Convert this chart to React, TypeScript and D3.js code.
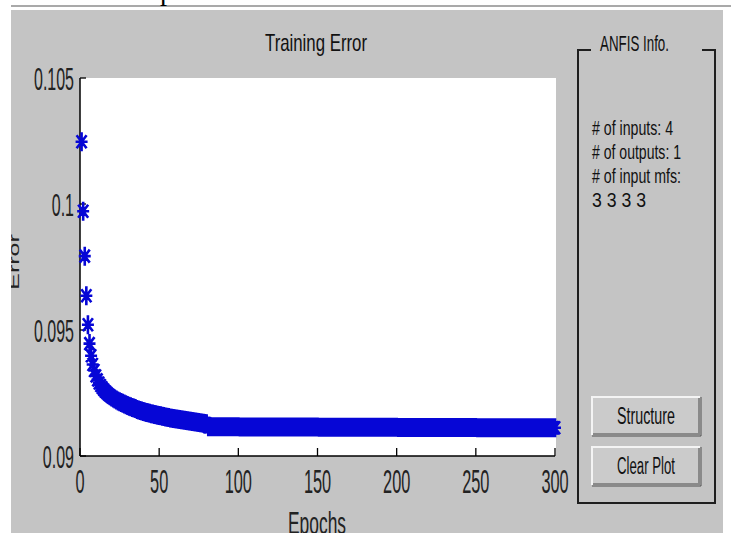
import React from 'react';
import * as d3 from 'd3';

// Training error per epoch (epochs 1..80)
const errorEarly = [
  0.10247, 0.09971, 0.09793, 0.09636, 0.09521, 0.09446, 0.09398, 0.09363, 0.09339, 0.09318,
  0.09302, 0.09290, 0.09280, 0.09271, 0.09263, 0.09256, 0.09250, 0.09244, 0.09239, 0.09234,
  0.09230, 0.09226, 0.09222, 0.09218, 0.09215, 0.09212, 0.09209, 0.09206, 0.09203, 0.09200,
  0.09197, 0.09195, 0.09192, 0.09190, 0.09188, 0.09185, 0.09183, 0.09181, 0.09179, 0.09177,
  0.09175, 0.09173, 0.09172, 0.09170, 0.09168, 0.09167, 0.09165, 0.09164, 0.09162, 0.09161,
  0.09160, 0.09158, 0.09157, 0.09155, 0.09154, 0.09153, 0.09151, 0.09150, 0.09149, 0.09148,
  0.09147, 0.09146, 0.09145, 0.09144, 0.09143, 0.09142, 0.09141, 0.09140, 0.09139, 0.09138,
  0.09137, 0.09136, 0.09135, 0.09134, 0.09133, 0.09132, 0.09131, 0.09130, 0.09129, 0.09128,
];
// Training error per epoch (epochs 81..300)
const errorLate = [
  0.09116, 0.09116, 0.09116, 0.09116, 0.09116, 0.09116, 0.09116, 0.09116, 0.09116, 0.09116,
  0.09116, 0.09116, 0.09116, 0.09116, 0.09116, 0.09116, 0.09116, 0.09116, 0.09116, 0.09116,
  0.09115, 0.09115, 0.09115, 0.09115, 0.09115, 0.09115, 0.09115, 0.09115, 0.09115, 0.09115,
  0.09115, 0.09115, 0.09115, 0.09115, 0.09115, 0.09115, 0.09115, 0.09115, 0.09115, 0.09115,
  0.09115, 0.09115, 0.09115, 0.09115, 0.09115, 0.09115, 0.09115, 0.09115, 0.09115, 0.09115,
  0.09115, 0.09115, 0.09115, 0.09115, 0.09115, 0.09115, 0.09115, 0.09115, 0.09115, 0.09115,
  0.09115, 0.09115, 0.09115, 0.09115, 0.09115, 0.09115, 0.09115, 0.09115, 0.09115, 0.09115,
  0.09114, 0.09114, 0.09114, 0.09114, 0.09114, 0.09114, 0.09114, 0.09114, 0.09114, 0.09114,
  0.09114, 0.09114, 0.09114, 0.09114, 0.09114, 0.09114, 0.09114, 0.09114, 0.09114, 0.09114,
  0.09114, 0.09114, 0.09114, 0.09114, 0.09114, 0.09114, 0.09114, 0.09114, 0.09114, 0.09114,
  0.09114, 0.09114, 0.09114, 0.09114, 0.09114, 0.09114, 0.09114, 0.09114, 0.09114, 0.09114,
  0.09114, 0.09114, 0.09114, 0.09114, 0.09114, 0.09114, 0.09114, 0.09114, 0.09114, 0.09114,
  0.09113, 0.09113, 0.09113, 0.09113, 0.09113, 0.09113, 0.09113, 0.09113, 0.09113, 0.09113,
  0.09113, 0.09113, 0.09113, 0.09113, 0.09113, 0.09113, 0.09113, 0.09113, 0.09113, 0.09113,
  0.09113, 0.09113, 0.09113, 0.09113, 0.09113, 0.09113, 0.09113, 0.09113, 0.09113, 0.09113,
  0.09113, 0.09113, 0.09113, 0.09113, 0.09113, 0.09113, 0.09113, 0.09113, 0.09113, 0.09113,
  0.09113, 0.09113, 0.09113, 0.09113, 0.09113, 0.09113, 0.09113, 0.09113, 0.09113, 0.09113,
  0.09112, 0.09112, 0.09112, 0.09112, 0.09112, 0.09112, 0.09112, 0.09112, 0.09112, 0.09112,
  0.09112, 0.09112, 0.09112, 0.09112, 0.09112, 0.09112, 0.09112, 0.09112, 0.09112, 0.09112,
  0.09112, 0.09112, 0.09112, 0.09112, 0.09112, 0.09112, 0.09112, 0.09112, 0.09112, 0.09112,
  0.09112, 0.09112, 0.09112, 0.09112, 0.09112, 0.09112, 0.09112, 0.09112, 0.09112, 0.09112,
  0.09112, 0.09112, 0.09112, 0.09112, 0.09112, 0.09112, 0.09112, 0.09112, 0.09112, 0.09112,
];
const trainingError = [...errorEarly, ...errorLate];

const xTicks = [0, 50, 100, 150, 200, 250, 300];
const yTicks = [0.09, 0.095, 0.1, 0.105];
const yTickLabels = ['0.09', '0.095', '0.1', '0.105'];
const infoLines = ['# of inputs: 4', '# of outputs: 1', '# of input mfs:', '3 3 3 3'];
const infoWidths = [81, 89, 89, 54];
const buttonLabels = ['Structure', 'Clear Plot'];

const FONT = '"Liberation Sans", Arial, sans-serif';
const PANEL = '#c4c4c4';

function Button({ x, y, w, h, label }: { x: number; y: number; w: number; h: number; label: string }) {
  return (
    <g>
      <rect x={x} y={y} width={w} height={h} fill="#cbcbcb" />
      <path d={`M${x},${y + h} L${x},${y} L${x + w},${y}`} stroke="#f4f4f4" strokeWidth={2} fill="none" />
      <path d={`M${x + 1},${y + h - 1} L${x + w - 1},${y + h - 1} L${x + w - 1},${y + 1}`} stroke="#8a8a8a" strokeWidth={2} fill="none" />
      <path d={`M${x},${y + h + 1} L${x + w + 1},${y + h + 1} L${x + w + 1},${y}`} stroke="#505050" strokeWidth={1} fill="none" />
      <text x={x + w / 2 - 29} y={y + h / 2 + 8} fontSize={23} fontFamily={FONT} fill="#111"
        textLength={58} lengthAdjust="spacingAndGlyphs">{label}</text>
    </g>
  );
}

export default function App() {
  const x = d3.scaleLinear().domain([0, 300]).range([80, 555]);
  const y = d3.scaleLinear().domain([0.09, 0.105]).range([456, 78]);

  const star = (cx: number, cy: number) =>
    `M${cx},${cy - 9.5}L${cx},${cy + 9.5}M${cx - 6},${cy}L${cx + 6},${cy}` +
    `M${cx - 5},${cy - 6.5}L${cx + 5},${cy + 6.5}M${cx - 5},${cy + 6.5}L${cx + 5},${cy - 6.5}`;
  const markers = trainingError.map((v, i) => star(x(i + 1), y(v))).join('');

  return (
    <svg width={731} height={533} style={{ position: 'absolute', left: 0, top: 0, display: 'block' }}>
      <rect x={0} y={0} width={731} height={533} fill="#ffffff" />
      <rect x={11} y={10} width={712} height={523} fill={PANEL} />
      <line x1={7} x2={731} y1={6} y2={6} stroke="#8c8c8c" strokeWidth={1.5} />
      <text x={160} y={0} fontSize={28} fontFamily="serif" fill="#000">p</text>

      {/* Title */}
      <text x={265} y={51} fontSize={24} fontFamily={FONT} fill="#111" textLength={102}
        lengthAdjust="spacingAndGlyphs">Training Error</text>

      {/* Plot area */}
      <rect x={x(0)} y={y(0.105)} width={x(300) - x(0) + 1} height={y(0.09) - y(0.105)} fill="#ffffff" />

      {/* Axes */}
      <line x1={x(0)} x2={x(0)} y1={y(0.105)} y2={y(0.09)} stroke="#000" strokeWidth={1.5} />
      <line x1={x(0)} x2={x(300)} y1={y(0.09)} y2={y(0.09)} stroke="#000" strokeWidth={1.5} />
      {xTicks.map((t) => (
        <g key={`xt${t}`}>
          <line x1={x(t)} x2={x(t)} y1={y(0.09)} y2={y(0.09) - 8} stroke="#000" strokeWidth={1.3} />
          <text transform={`translate(${x(t)},493) scale(0.48,1)`} textAnchor="middle" fontSize={34}
            fontFamily={FONT} fill="#222">{t}</text>
        </g>
      ))}
      {yTicks.map((t, i) => (
        <g key={`yt${t}`}>
          <line x1={x(0)} x2={x(0) + 6} y1={y(t)} y2={y(t)} stroke="#000" strokeWidth={1.3} />
          <text transform={`translate(74,${y(t) + 11.5}) scale(0.5,1)`} textAnchor="end" fontSize={32}
            fontFamily={FONT} fill="#222">{yTickLabels[i]}</text>
        </g>
      ))}

      {/* Axis labels */}
      <text transform={`translate(18.5,262) rotate(-90) scale(1,0.55)`} textAnchor="middle" fontSize={25}
        fontFamily={FONT} fill="#222">Error</text>
      <text x={288} y={534} fontSize={32} fontFamily={FONT} fill="#222" textLength={58}
        lengthAdjust="spacingAndGlyphs">Epochs</text>

      {/* Data markers */}
      <path d={markers} stroke="#0606d6" strokeWidth={2.6} fill="none" />

      {/* ANFIS Info panel */}
      <path d="M591,50 L578,50 L578,503 L715,503 L715,50 L702,50" stroke="#1e1e1e" strokeWidth={2} fill="none" />
      <text x={600} y={51} fontSize={22} fontFamily={FONT} fill="#111" textLength={69}
        lengthAdjust="spacingAndGlyphs">ANFIS Info.</text>
      {infoLines.map((s, i) => (
        <text key={s} x={592} y={135 + i * 24} fontSize={20} fontFamily={FONT} fill="#111"
          textLength={infoWidths[i]} lengthAdjust="spacingAndGlyphs">{s}</text>
      ))}
      {buttonLabels.map((b, i) => (
        <Button key={b} x={592} y={397 + i * 50} w={108} h={38} label={b} />
      ))}

      {/* White margin on the left covering the clipped y label */}
      <rect x={0} y={0} width={11} height={533} fill="#ffffff" />
    </svg>
  );
}
